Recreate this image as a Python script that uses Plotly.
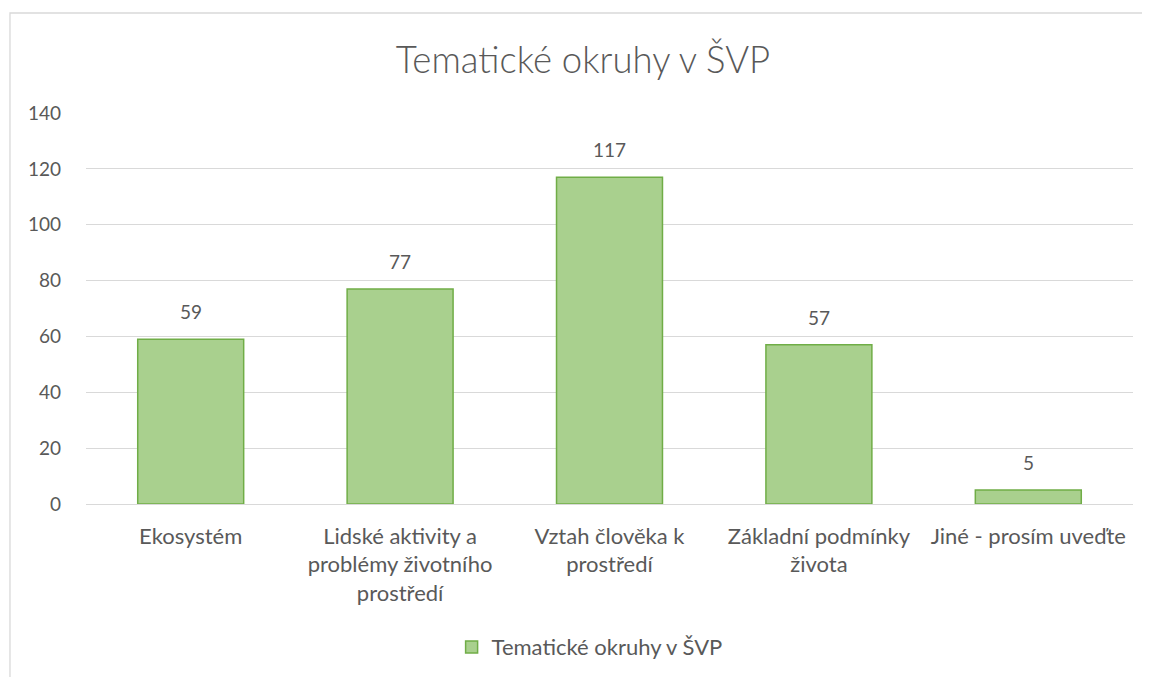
import plotly.graph_objects as go

categories = ["Ekosystém",
              "Lidské aktivity a<br>problémy životního<br>prostředí",
              "Vztah člověka k<br>prostředí",
              "Základní podmínky<br>života",
              "Jiné - prosím uveďte"]
values = [59, 77, 117, 57, 5]
series_name = "Tematické okruhy v ŠVP"
title_text = "Tematické okruhy v ŠVP"
y_ticks = [0, 20, 40, 60, 80, 100, 120, 140]

FONT = "Lato, Open Sans, sans-serif"
GRAY = "#595959"

fig = go.Figure()
fig.add_trace(go.Bar(
    x=categories, y=values, name=series_name,
    marker=dict(color="#a9d08e", line=dict(color="#70ad47", width=1.5)),
    width=0.506,
))
for c, v in zip(categories, values):
    fig.add_annotation(x=c, y=v, text=str(v), showarrow=False, yanchor="bottom",
                       yshift=14, font=dict(family=FONT, size=19, color=GRAY))

fig.update_layout(
    width=1150, height=677,
    paper_bgcolor="white", plot_bgcolor="white",
    margin=dict(l=78, r=25, t=105, b=181),
    title=dict(text=title_text, x=0.5, xanchor="center", y=1 - 52 / 677, yanchor="middle",
               font=dict(family=FONT, size=36.5, color=GRAY, weight=300)),
    font=dict(family=FONT, size=19, color=GRAY),
    showlegend=True,
    legend=dict(orientation="h", x=0.481, xanchor="center", y=-0.366, yanchor="middle",
                font=dict(family=FONT, size=22, color=GRAY)),
)
fig.update_yaxes(range=[0, 140], tickvals=y_ticks, showgrid=True, gridcolor="#d9d9d9",
                 gridwidth=1.3, zeroline=False, showline=False, ticks="",
                 ticklabelstandoff=24, tickfont=dict(family=FONT, size=19, color=GRAY))
fig.update_xaxes(showline=True, linecolor="#d9d9d9", linewidth=1.3, ticks="",
                 ticklabelstandoff=12, tickfont=dict(family=FONT, size=22, color=GRAY))
fig.add_shape(type="rect", xref="paper", yref="paper", x0=-0.0726, x1=1.1, y0=-1.0, y1=1.2558,
              line=dict(color="#d9d9d9", width=1.3), fillcolor="rgba(0,0,0,0)", layer="below")

fig.write_html("out.html")
